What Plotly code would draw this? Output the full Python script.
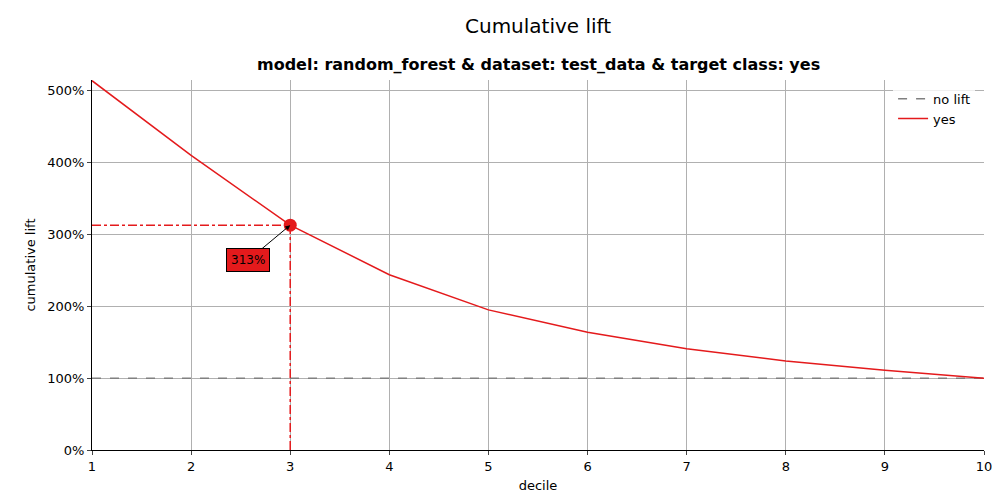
import plotly.graph_objects as go

deciles = [1, 2, 3, 4, 5, 6, 7, 8, 9, 10]
lift_yes = [514, 410, 313, 244, 195, 164, 141, 124, 111, 100]
no_lift = [100] * 10
highlight_decile = 3
highlight_value = 313
y_ticks = [0, 100, 200, 300, 400, 500]

red = "#e41a1c"

fig = go.Figure()
fig.add_trace(go.Scatter(x=deciles, y=no_lift, mode="lines", name="no lift",
                         line=dict(color="grey", dash="dash", width=1.5)))
fig.add_trace(go.Scatter(x=deciles, y=lift_yes, mode="lines", name="yes",
                         line=dict(color=red, width=1.5)))
# reference lines to the highlighted decile
fig.add_trace(go.Scatter(x=[1, highlight_decile], y=[highlight_value, highlight_value],
                         mode="lines", showlegend=False,
                         line=dict(color=red, dash="dashdot", width=1.5)))
fig.add_trace(go.Scatter(x=[highlight_decile, highlight_decile], y=[0, highlight_value],
                         mode="lines", showlegend=False,
                         line=dict(color=red, dash="dashdot", width=1.5)))
fig.add_trace(go.Scatter(x=[highlight_decile], y=[highlight_value], mode="markers",
                         showlegend=False, marker=dict(color=red, size=13)))

fig.add_annotation(x=highlight_decile, y=highlight_value, text=f"{highlight_value}%",
                   ax=-42, ay=35, showarrow=True, arrowhead=2, arrowsize=1,
                   arrowwidth=1, arrowcolor="black",
                   bgcolor=red, bordercolor="black", borderwidth=1, borderpad=4,
                   font=dict(size=12, color="black"))

fig.add_annotation(text="Cumulative lift", xref="paper", yref="paper", x=0.5, y=1.0,
                   xanchor="center", yanchor="bottom", yshift=40, showarrow=False,
                   font=dict(size=20, color="black"))
fig.add_annotation(text="<b>model: random_forest & dataset: test_data & target class: yes</b>",
                   xref="paper", yref="paper", x=0.5, y=1.0, xanchor="center",
                   yanchor="bottom", yshift=4, showarrow=False,
                   font=dict(size=16, color="black"))

fig.update_layout(
    width=1000, height=500,
    margin=dict(l=84, r=24, t=72, b=58),
    plot_bgcolor="white", paper_bgcolor="white",
    font=dict(family="DejaVu Sans", size=13, color="black"),
    legend=dict(x=0.99, y=0.99, xanchor="right", yanchor="top",
                bgcolor="rgba(255,255,255,0.8)", font=dict(size=13)),
    xaxis=dict(title=dict(text="decile", font=dict(size=13), standoff=8), range=[1, 10],
               tickvals=deciles, showgrid=True, gridcolor="#b0b0b0", automargin=False,
               showline=True, linecolor="black", ticks="outside", ticklen=4,
               zeroline=False),
    yaxis=dict(title=dict(text="cumulative lift", font=dict(size=13), standoff=8),
               range=[0, 515], automargin=False,
               tickvals=y_ticks, ticktext=[f"{v}%" for v in y_ticks],
               showgrid=True, gridcolor="#b0b0b0", showline=True, linecolor="black",
               ticks="outside", ticklen=4, zeroline=False),
)

fig.write_html("out.html")
